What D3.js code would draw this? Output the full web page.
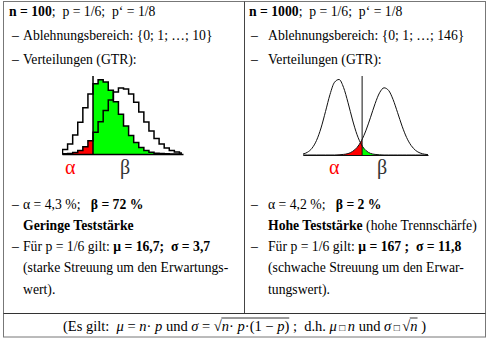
<!DOCTYPE html>
<html>
<head>
<meta charset="utf-8">
<script src="https://cdn.jsdelivr.net/npm/d3@7"></script>
<style>
  body { margin: 0; background: #fff; }
  svg { display: block; }
  text { font-family: "Liberation Serif", "Times New Roman", serif; fill: #000; white-space: pre; }
</style>
</head>
<body>
<svg id="chart" width="488" height="340"></svg>
<script>
// n = 100, probabilities in % for k hits
const k100 = [4, 5, 6, 7, 8, 9, 10, 11, 12, 13, 14, 15, 16, 17, 18, 19, 20, 21, 22, 23, 24, 25, 26, 27, 28]
const p6_100 = [0.01, 0.03, 0.09, 0.25, 0.58, 1.18, 2.15, 3.51, 5.21, 7.06, 8.77, 10.06, 10.69, 10.56, 9.74, 8.41, 6.81, 5.19, 3.73, 2.53, 1.62, 0.99, 0.57, 0.31, 0.16]
const p8_100 = [0.26, 0.71, 1.61, 3.09, 5.13, 7.49, 9.74, 11.38, 12.06, 11.66, 10.35, 8.48, 6.44, 4.54, 2.99, 1.85, 1.07, 0.58, 0.30, 0.14, 0.07, 0.03, 0.01, 0, 0]
const cut100 = 10.5   // Ablehnungsbereich {0; ...; 10}

// n = 1000
const k1000 = [94, 98, 102, 106, 110, 114, 118, 122, 126, 130, 134, 138, 142, 146, 150, 154, 158, 162, 166, 170, 174, 178, 182, 186, 190, 194, 198, 202, 206]
const p6_1000 = [0, 0, 0, 0, 0, 0, 0, 0, 0.01, 0.03, 0.07, 0.18, 0.38, 0.73, 1.25, 1.90, 2.58, 3.13, 3.38, 3.25, 2.79, 2.13, 1.45, 0.88, 0.48, 0.23, 0.10, 0.04, 0.01]
const p8_1000 = [0.05, 0.14, 0.34, 0.73, 1.36, 2.19, 3.05, 3.66, 3.80, 3.40, 2.63, 1.76, 1.02, 0.51, 0.22, 0.08, 0.03, 0.01, 0, 0, 0, 0, 0, 0, 0, 0, 0, 0, 0]
const cut1000 = 146.5 // Ablehnungsbereich {0; ...; 146}

const leftLines = [
  { y: 16, parts: [['n = 100', 1], [';  p = 1/6;  p‘ = 1/8', 0]] },
  { y: 40, dash: true, parts: [['Ablehnungsbereich: {0; 1; …; 10}', 0]] },
  { y: 64, dash: true, parts: [['Verteilungen (GTR):', 0]] },
  { y: 209, dash: true, parts: [['α = 4,3 %;   ', 0], ['β = 72 %', 1]] },
  { y: 230, parts: [['Geringe Teststärke', 1]] },
  { y: 251, dash: true, parts: [['Für p = 1/6 gilt: ', 0], ['μ = 16,7;  σ = 3,7', 1]] },
  { y: 272, parts: [['(starke Streuung um den Erwartungs-', 0]] },
  { y: 294, parts: [['wert).', 0]] }
]
const rightLines = [
  { y: 16, parts: [['n = 1000', 1], [';  p = 1/6;  p‘ = 1/8', 0]] },
  { y: 40, dash: true, parts: [['Ablehnungsbereich: {0; 1; …; 146}', 0]] },
  { y: 64, dash: true, parts: [['Verteilungen (GTR):', 0]] },
  { y: 209, dash: true, parts: [['α = 4,2 %;   ', 0], ['β = 2 %', 1]] },
  { y: 230, parts: [['Hohe Teststärke', 1], [' (hohe Trennschärfe)', 0]] },
  { y: 251, dash: true, parts: [['Für p = 1/6 gilt: ', 0], ['μ = 167 ;  σ = 11,8', 1]] },
  { y: 272, parts: [['(schwache Streuung um den Erwar-', 0]] },
  { y: 294, parts: [['tungswert).', 0]] }
]

const svg = d3.select('#chart')
const defs = svg.append('defs')

// table frame
svg.append('rect')
  .attr('x', 3.5).attr('y', 1.5).attr('width', 482).attr('height', 335.5)
  .attr('fill', 'none').attr('stroke', '#777')
svg.append('line').attr('x1', 244.5).attr('x2', 244.5).attr('y1', 1.5).attr('y2', 313.5).attr('stroke', '#444')
svg.append('line').attr('x1', 3.5).attr('x2', 485.5).attr('y1', 313.5).attr('y2', 313.5).attr('stroke', '#333')

function writeLines(lines, x0, dashX, textX) {
  lines.forEach(l => {
    if (l.dash) {
      svg.append('text').attr('x', dashX).attr('y', l.y).style('font-size', '13.7px').text('–')
    }
    const t = svg.append('text')
      .attr('x', l.dash || l.y > 200 ? textX : x0)
      .attr('y', l.y)
      .style('font-size', '13.7px')
    l.parts.forEach(([s, b]) => {
      t.append('tspan').attr('font-weight', b ? 'bold' : null).text(s)
    })
  })
}
writeLines(leftLines, 9, 12, 23)
writeLines(rightLines, 249, 251, 268)

function panel(cfg) {
  const x = d3.scaleLinear().domain(cfg.xDomain).range(cfg.xRange)
  const y = d3.scaleLinear().domain(cfg.yDomain).range(cfg.yRange)
  const xc = x(cfg.cut)
  const [xa, xb] = cfg.xRange

  const clip = (name, x1, x2) => {
    defs.append('clipPath').attr('id', cfg.id + name)
      .append('rect').attr('x', x1).attr('y', 0).attr('width', x2 - x1).attr('height', 340)
    return `url(#${cfg.id + name})`
  }
  const clipAll = clip('all', xa, xb)
  const clipLo = clip('lo', xa, xc)
  const clipHi = clip('hi', xc, xb)

  const area = d3.area().curve(cfg.curve)
    .x((d, i) => x(cfg.k[i])).y0(y(0)).y1(d => y(d))
  const line = d3.line().curve(cfg.curve)
    .x((d, i) => x(cfg.k[i])).y(d => y(d))

  const g = svg.append('g')
  // beta: alternative p' = 1/8 outside the rejection region
  g.append('path').datum(cfg.alt).attr('d', area).attr('fill', '#00ff00').attr('clip-path', clipHi)
  // alpha: p = 1/6 inside the rejection region
  g.append('path').datum(cfg.h0).attr('d', area).attr('fill', '#ff0000').attr('clip-path', clipLo)

  ;[cfg.alt, cfg.h0].forEach(s => {
    g.append('path').datum(s).attr('d', line)
      .attr('fill', 'none').attr('stroke', cfg.stroke).attr('stroke-width', cfg.sw)
      .attr('clip-path', clipAll)
  })

  g.append('g')
    .attr('transform', `translate(0,${y(0)})`)
    .attr('color', cfg.stroke)
    .call(d3.axisBottom(x).tickValues([]).tickSizeOuter(0))
    .select('.domain').attr('stroke-width', cfg.sw)

  g.append('line')
    .attr('x1', xc).attr('x2', xc).attr('y1', cfg.top).attr('y2', y(0))
    .attr('stroke', cfg.stroke).attr('stroke-width', cfg.sw)

  svg.append('text').attr('x', cfg.alphaX).attr('y', 174)
    .style('font-size', '20px').style('fill', '#ff0000').text('α')
  svg.append('text').attr('x', cfg.betaX).attr('y', 174)
    .style('font-size', '20px').style('fill', '#333').text('β')
}

panel({
  id: 'n100', k: k100, h0: p6_100, alt: p8_100, cut: cut100,
  xDomain: [4.4, 28.2], xRange: [62, 183],
  yDomain: [0, 12], yRange: [154, 80],
  curve: d3.curveStep, stroke: '#000', sw: 1.5, top: 76,
  alphaX: 65, betaX: 120
})
panel({
  id: 'n1000', k: k1000, h0: p6_1000, alt: p8_1000, cut: cut1000,
  xDomain: [94, 205], xRange: [303, 428],
  yDomain: [0, 4], yRange: [155, 75.5],
  curve: d3.curveMonotoneX, stroke: '#111', sw: 1, top: 76,
  alphaX: 329, betaX: 377
})

// bottom row: formula line
const pieces = [
  ['(Es gilt:  ', ''], ['μ', 'i'], [' = ', ''], ['n', 'i'], ['·', ''], [' p', 'i'], [' und ', ''],
  ['σ', 'i'], [' = ', ''], ['√', 'root'],
  ['n', 'i rad'], ['·', 'rad'], [' p', 'i rad'], ['·', 'rad'], ['(1 − ', 'rad'], ['p', 'i rad'], [')', 'rad'],
  [' ;  d.h. ', ''], ['μ', 'i'], [' □ ', 'box'], ['n', 'i'], [' und ', ''], ['σ', 'i'], [' □ ', 'box'],
  ['√', 'root'], ['n', 'i rad'], [' )', '']
]
const bg = svg.append('g')
let cx = 0
const placed = pieces.map(([s, f]) => {
  const t = bg.append('text').attr('x', cx).attr('y', 0)
    .style('font-size', f.includes('box') ? '10px' : '14.5px')
    .style('font-style', f.includes('i') ? 'italic' : null)
    .text(s)
  const w = t.node().getComputedTextLength()
  const p = { f, x0: cx, x1: cx + w }
  cx += w
  return p
})
bg.attr('transform', `translate(${244.5 - cx / 2},331)`)
// overlines of the radicals
let run = null
placed.forEach((p, i) => {
  if (p.f.includes('rad')) {
    if (!run) run = { x0: placed[i - 1].x1 - 0.5 }
    run.x1 = p.x1
  }
  if ((!p.f.includes('rad') || i === placed.length - 1) && run) {
    bg.append('line').attr('x1', run.x0).attr('x2', run.x1).attr('y1', -13).attr('y2', -13)
      .attr('stroke', '#000').attr('stroke-width', 0.8)
    run = null
  }
})
</script>
</body>
</html>
